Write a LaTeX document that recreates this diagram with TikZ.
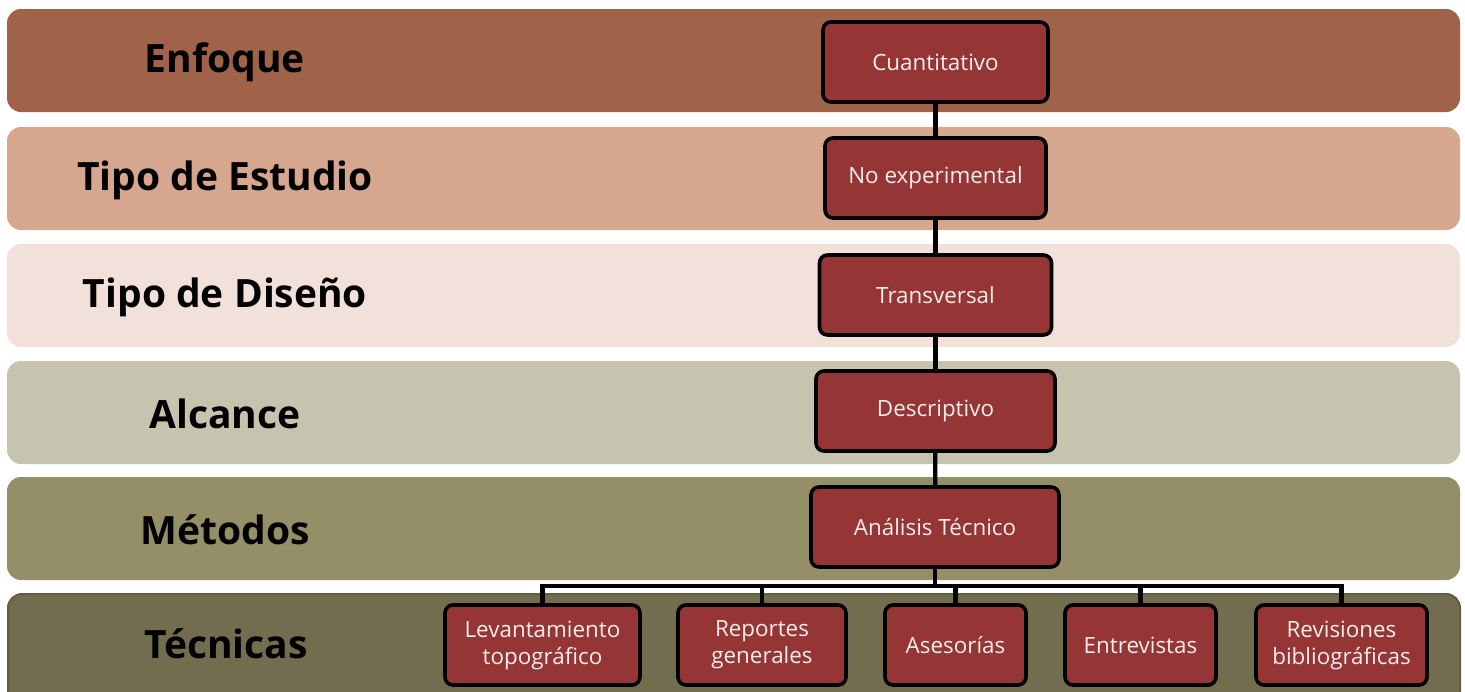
\documentclass[tikz,border=0pt]{standalone}
\usepackage{fontspec}
\setmainfont{Open Sans}
\usepackage{xcolor}
\usepackage{tikz}
\usetikzlibrary{calc}

\definecolor{bandA}{HTML}{A0634A}
\definecolor{bandB}{HTML}{D6A68E}
\definecolor{bandC}{HTML}{F2E0DA}
\definecolor{bandD}{HTML}{C6C4AE}
\definecolor{bandE}{HTML}{948F67}
\definecolor{bandF}{HTML}{716D4E}
\definecolor{boxred}{HTML}{963535}
\definecolor{boxtext}{HTML}{F4EEEA}

\tikzset{
  bandlabel/.style={font=\fontsize{19.5}{24}\selectfont\bfseries, text=black},
  redbox/.style={draw=black, line width=1.8pt, fill=boxred, rounded corners=4pt,
    text=boxtext, align=center, minimum height=40pt, inner sep=2pt,
    font=\fontsize{11.2}{13.5}\selectfont},
  link/.style={draw=black, line width=2.1pt}
}

\begin{document}
\begin{tikzpicture}[x=0.5pt, y=-0.5pt]

\clip (0,0) rectangle (1465,691);
\fill[white] (0,0) rectangle (1465,691);

% bands
\foreach \top/\col/\lab/\name in {9/bandA/Enfoque/enf, 127/bandB/Tipo de Estudio/est, 244/bandC/Tipo de Diseño/dis, 361/bandD/Alcance/alc, 477/bandE/Métodos/met}
{
	\fill[\col, rounded corners=7pt] (7,\top) rectangle (1460,\top+103);
	\node[bandlabel] (\name) at (225,\top+53) {\lab};
}
\filldraw[fill=bandF, draw=bandF!85!black, line width=1pt, rounded corners=7pt] (8,594) rectangle (1460,720);
\node[bandlabel] (tec) at (226,644) {Técnicas};

% main column
\node[redbox, minimum width=112.5pt] (cua) at (935.5,62) {Cuantitativo};
\node[redbox, minimum width=110.5pt] (noe) at (935.5,178) {No experimental};
\node[redbox, minimum width=116pt] (tra) at (935.5,295) {Transversal};
\node[redbox, minimum width=119.5pt] (des) at (935.5,411) {Descriptivo};
\node[redbox, minimum width=124pt] (ana) at (935,527) {Análisis Técnico};

\draw[link] (cua) -- (noe);
\draw[link] (noe) -- (tra);
\draw[link] (tra) -- (des);
\draw[link] (des) -- (ana);

% techniques
\node[redbox, minimum width=97.5pt] (lev) at (542.5,645) {Levantamiento\\topográfico};
\node[redbox, minimum width=84pt] (rep) at (762,645) {Reportes\\generales};
\node[redbox, minimum width=70.5pt] (ase) at (955.5,645) {Asesorías};
\node[redbox, minimum width=75.5pt] (ent) at (1140.5,645) {Entrevistas};
\node[redbox, minimum width=85.5pt] (rev) at (1341.5,645) {Revisiones\\bibliográficas};

\coordinate (bus) at (935,586);
\draw[link] (ana.south) -- (bus);
\draw[link, line cap=rect] (bus -| lev.north) -- (bus -| rev.north);
\foreach \t in {lev,rep,ase,ent,rev}
{
	\draw[link] (bus -| \t.north) -- (\t.north);
}

\end{tikzpicture}
\end{document}
